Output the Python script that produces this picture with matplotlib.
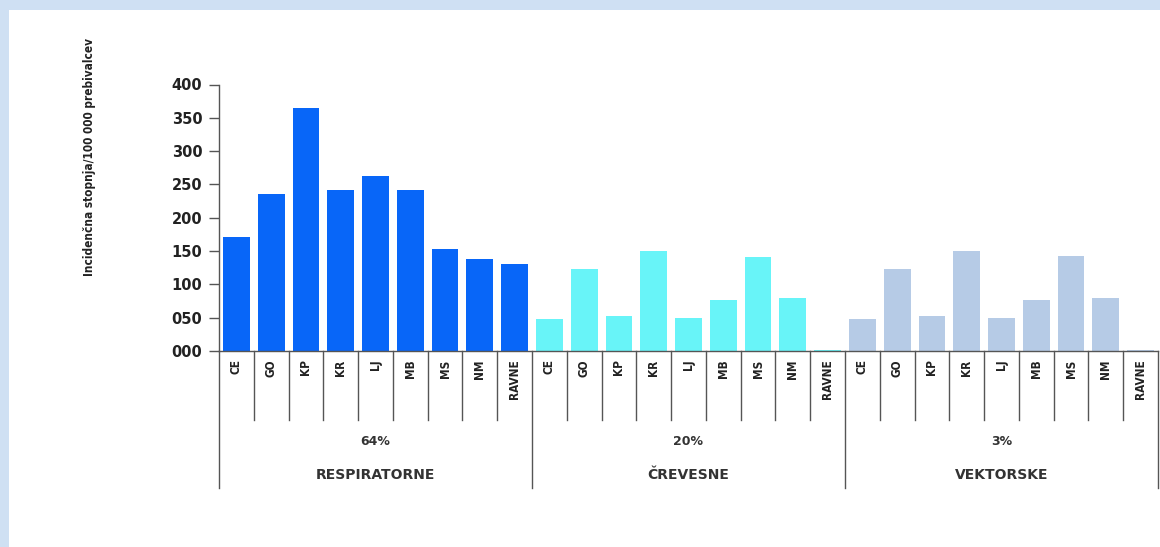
import numpy as np
import matplotlib.pyplot as plt
from matplotlib.patches import Rectangle
from matplotlib.transforms import blended_transform_factory

# incidence per 100 000 inhabitants, by region and disease group
regions = ["CE", "GO", "KP", "KR", "LJ", "MB", "MS", "NM", "RAVNE"]
groups = ["RESPIRATORNE", "ČREVESNE", "VEKTORSKE"]
shares = ["64%", "20%", "3%"]
respiratorne = [171, 235, 365, 242, 262, 241, 153, 138, 131]
crevesne = [48, 123, 52, 150, 50, 77, 141, 79, 2]
vektorske = [48, 123, 52, 150, 50, 77, 142, 79, 2]
colors = ["#0866f8", "#68f4f8", "#b6cbe6"]

fig = plt.figure(figsize=(11.6, 5.47), dpi=100, facecolor="#cfe0f3")
fig.patches.append(Rectangle((9 / 1160, 0), 1, 537 / 547, transform=fig.transFigure,
                             facecolor="white", edgecolor="none", zorder=-10))

ax = fig.add_axes([219 / 1160, 196 / 547, 939 / 1160, 266.5 / 547])
ax.set_facecolor("none")

n = len(regions)
all_values = [respiratorne, crevesne, vektorske]
for g, values in enumerate(all_values):
    x = np.arange(n) + g * n
    ax.bar(x, values, width=0.77, color=colors[g], zorder=2)

ax.set_xlim(-0.5, 3 * n - 0.5)
ax.set_ylim(0, 400)
ax.set_yticks(range(0, 401, 50))
ax.set_yticklabels(["%03d" % v for v in range(0, 401, 50)],
                   fontsize=10.5, fontweight="bold", color="#222222")
ax.set_xticks(np.arange(3 * n))
ax.set_xticklabels(regions * 3, rotation=90, fontsize=8.5, fontweight="bold",
                   color="#222222", fontstretch="condensed")
ax.tick_params(axis="x", length=0, pad=6)
ax.tick_params(axis="y", length=7, width=1, color="#555555", pad=5)

for side in ["top", "right"]:
    ax.spines[side].set_visible(False)
for side in ["left", "bottom"]:
    ax.spines[side].set_color("#555555")
    ax.spines[side].set_linewidth(1)

# category separators below the axis
trans = blended_transform_factory(ax.transData, ax.transAxes)
for k in range(3 * n + 1):
    xpos = k - 0.5
    bottom = -0.514 if k % n == 0 else -0.259
    ax.plot([xpos, xpos], [0, bottom], color="#555555", lw=1,
            transform=trans, clip_on=False)

for g in range(3):
    xc = g * n + (n - 1) / 2
    ax.text(xc, -0.341, shares[g], transform=trans, ha="center", va="center",
            fontsize=9, fontweight="bold", color="#333333")
    ax.text(xc, -0.465, groups[g], transform=trans, ha="center", va="center",
            fontsize=10, fontweight="bold", color="#333333")

fig.text(90 / 1160, 1 - 157 / 547, "Incidenčna stopnja/100 000 prebivalcev",
         rotation=90, ha="center", va="center", fontsize=8.5, fontweight="bold",
         fontstretch="condensed", color="#222222")

fig.savefig("out.png", dpi=100, facecolor=fig.get_facecolor())
